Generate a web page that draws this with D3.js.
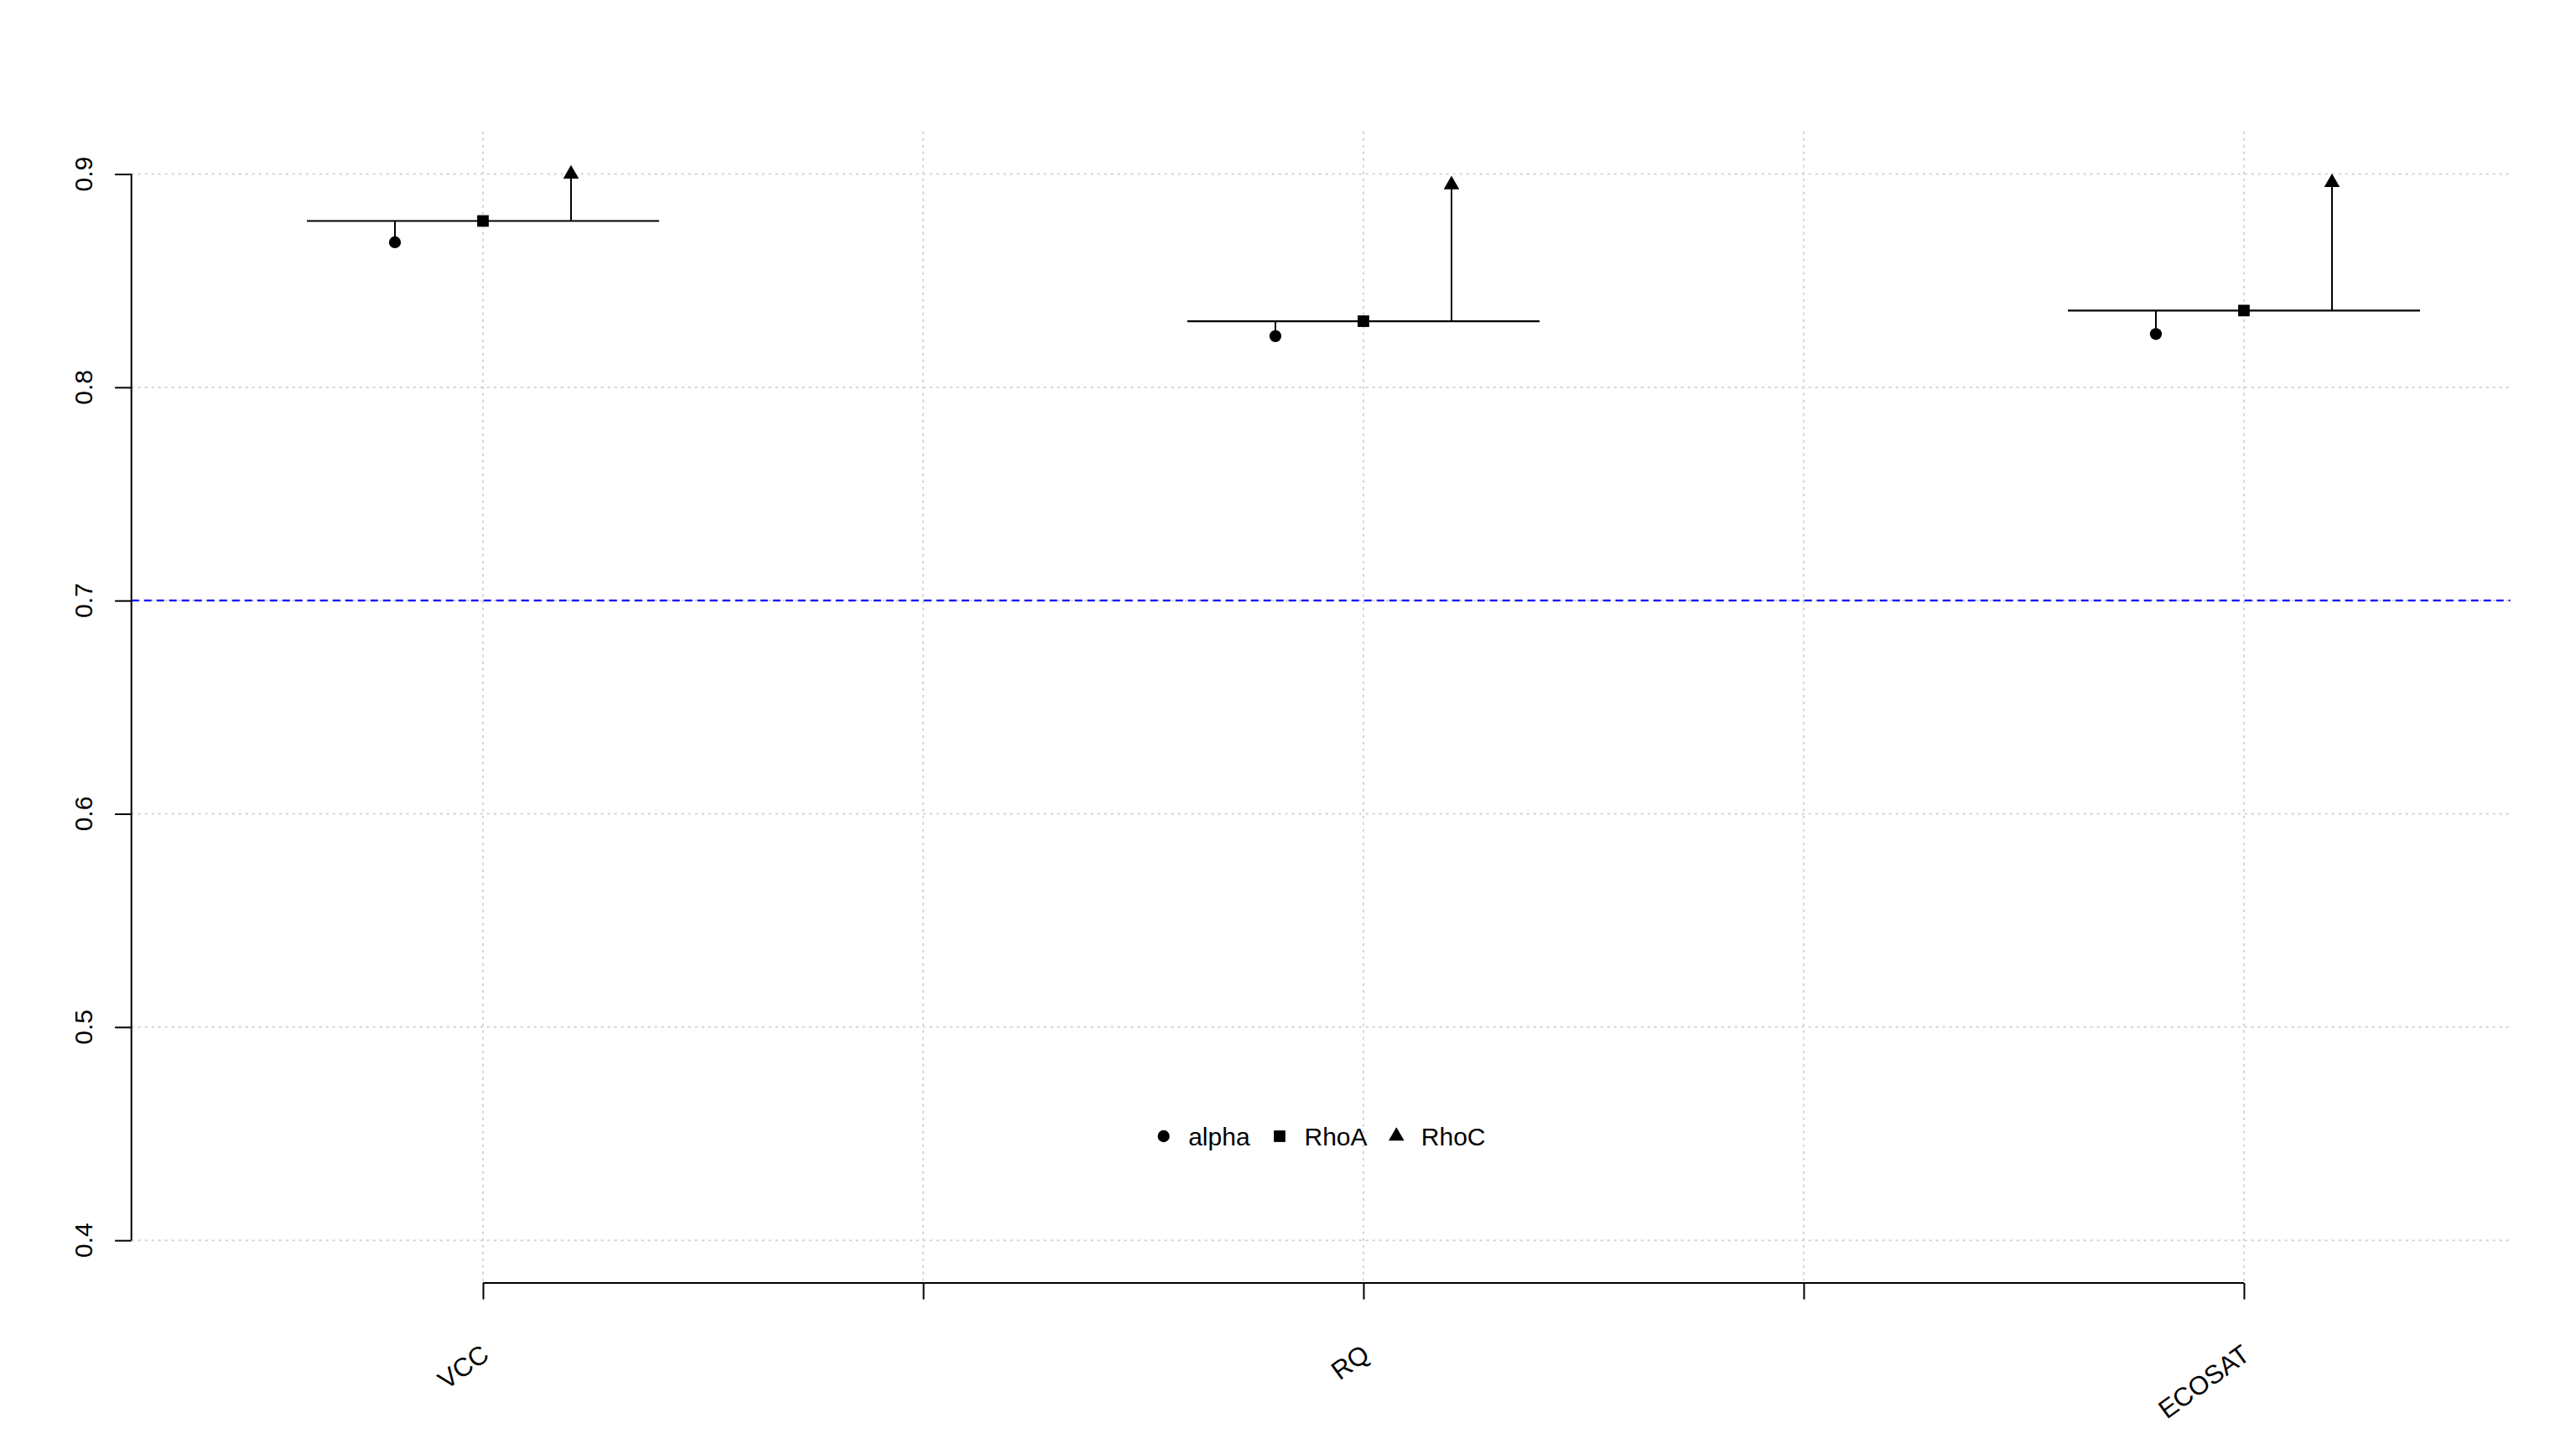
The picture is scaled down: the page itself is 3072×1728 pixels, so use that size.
<!DOCTYPE html>
<html>
<head>
<meta charset="utf-8">
<script src="https://cdn.jsdelivr.net/npm/d3@7"></script>
<style>
  html, body { margin: 0; padding: 0; background: #ffffff; }
  svg { display: block; }
  text { font-family: "Liberation Sans", Arial, sans-serif; fill: #000; }
</style>
</head>
<body>
<script>
// ---------------- data ----------------
const categories = ["VCC", "RQ", "ECOSAT"];
const alphaVals  = [0.868, 0.824, 0.825];
const rhoAVals   = [0.878, 0.831, 0.836];
const rhoCVals   = [0.900, 0.895, 0.896];
const yTicks     = [0.4, 0.5, 0.6, 0.7, 0.8, 0.9];
const yTickLabels = ["0.4", "0.5", "0.6", "0.7", "0.8", "0.9"];
const xTicks     = [1, 1.5, 2, 2.5, 3];
const refValue   = 0.7;
const legendLabels = ["alpha", "RhoA", "RhoC"];

// ---------------- layout ----------------
const W = 3072, H = 1728;
const plotLeft = 156.7, plotRight = 2993.6, plotTop = 156.7, plotBottom = 1530;

const svg = d3.select("body").append("svg")
  .attr("width", W).attr("height", H)
  .attr("viewBox", `0 0 ${W} ${H}`);
svg.append("rect").attr("width", W).attr("height", H).attr("fill", "#fff");

const x = d3.scaleLinear().domain([0.6007, 3.3025]).range([plotLeft, plotRight]);
const y = d3.scaleLinear().domain([0.38, 0.92]).range([plotBottom, plotTop]);

// ---------------- grid ----------------
const grid = svg.append("g");
grid.selectAll("line.h").data(yTicks).join("line")
  .attr("x1", plotLeft).attr("x2", plotRight)
  .attr("y1", d => y(d)).attr("y2", d => y(d))
  .attr("stroke", "#d3d3d3").attr("stroke-width", 2)
  .attr("stroke-dasharray", "3,5");
grid.selectAll("line.v").data(xTicks).join("line")
  .attr("x1", d => x(d)).attr("x2", d => x(d))
  .attr("y1", plotTop).attr("y2", plotBottom)
  .attr("stroke", "#d3d3d3").attr("stroke-width", 2)
  .attr("stroke-dasharray", "3,5");

// ---------------- reference line ----------------
svg.append("line")
  .attr("x1", plotLeft).attr("x2", plotRight)
  .attr("y1", y(refValue)).attr("y2", y(refValue))
  .attr("stroke", "#0000ff").attr("stroke-width", 2.2)
  .attr("stroke-dasharray", "9,6");

// ---------------- axes ----------------
const tickLen = 19.6;
const yAxis = d3.axisLeft(y).tickValues(yTicks).tickSize(tickLen).tickFormat("");
const gy = svg.append("g").attr("transform", `translate(${plotLeft},0)`).call(yAxis);
gy.select(".domain").remove();
gy.selectAll(".tick line").attr("stroke", "#000").attr("stroke-width", 2);
gy.append("line").attr("x1", 0).attr("x2", 0)
  .attr("y1", y(yTicks[0])).attr("y2", y(yTicks[yTicks.length - 1]))
  .attr("stroke", "#000").attr("stroke-width", 2);
svg.append("g").selectAll("text").data(yTicks).join("text")
  .attr("transform", d => `translate(110,${y(d)}) rotate(-90)`)
  .attr("text-anchor", "middle")
  .style("font-size", "30px")
  .text((d, i) => yTickLabels[i]);

const xAxis = d3.axisBottom(x).tickValues(xTicks).tickSize(tickLen).tickFormat("");
const gx = svg.append("g").attr("transform", `translate(0,${plotBottom})`).call(xAxis);
gx.select(".domain").remove();
gx.selectAll(".tick line").attr("stroke", "#000").attr("stroke-width", 2);
gx.append("line").attr("x1", x(xTicks[0])).attr("x2", x(xTicks[xTicks.length - 1]))
  .attr("y1", 0).attr("y2", 0).attr("stroke", "#000").attr("stroke-width", 2);
svg.append("g").selectAll("text").data(categories).join("text")
  .attr("transform", (d, i) => `translate(${x(i + 1) + 3},1611) rotate(-36)`)
  .attr("text-anchor", "end")
  .attr("dominant-baseline", "central")
  .style("font-size", "31px")
  .text(d => d);

// ---------------- marks ----------------
const symCircle = d3.symbol().type(d3.symbolCircle).size(160);
const symSquare = d3.symbol().type(d3.symbolSquare).size(190);
const symTri    = d3.symbol().type(d3.symbolTriangle).size(150);

const marks = svg.append("g");
categories.forEach((c, i) => {
  const cx = i + 1;
  const g = marks.append("g");
  g.append("line")
    .attr("x1", x(cx - 0.2)).attr("x2", x(cx + 0.2))
    .attr("y1", y(rhoAVals[i])).attr("y2", y(rhoAVals[i]))
    .attr("stroke", "#000").attr("stroke-width", 2.2);
  g.append("line")
    .attr("x1", x(cx - 0.1)).attr("x2", x(cx - 0.1))
    .attr("y1", y(rhoAVals[i])).attr("y2", y(alphaVals[i]))
    .attr("stroke", "#000").attr("stroke-width", 2);
  g.append("line")
    .attr("x1", x(cx + 0.1)).attr("x2", x(cx + 0.1))
    .attr("y1", y(rhoAVals[i])).attr("y2", y(rhoCVals[i]))
    .attr("stroke", "#000").attr("stroke-width", 2);
  g.append("path").attr("d", symCircle())
    .attr("transform", `translate(${x(cx - 0.1)},${y(alphaVals[i])})`).attr("fill", "#000");
  g.append("path").attr("d", symSquare())
    .attr("transform", `translate(${x(cx)},${y(rhoAVals[i])})`).attr("fill", "#000");
  g.append("path").attr("d", symTri())
    .attr("transform", `translate(${x(cx + 0.1)},${y(rhoCVals[i])})`).attr("fill", "#000");
});

// ---------------- legend ----------------
const legendSyms = [symCircle, symSquare, symTri];
const legendSymX = [1387.7, 1526, 1665.3];
const legendY = 1355;
const lg = svg.append("g");
legendLabels.forEach((lab, i) => {
  lg.append("path").attr("d", legendSyms[i]())
    .attr("transform", `translate(${legendSymX[i]},${legendY})`).attr("fill", "#000");
  lg.append("text")
    .attr("x", legendSymX[i] + 29.5).attr("y", legendY + 11)
    .style("font-size", "30px")
    .text(lab);
});
</script>
</body>
</html>
